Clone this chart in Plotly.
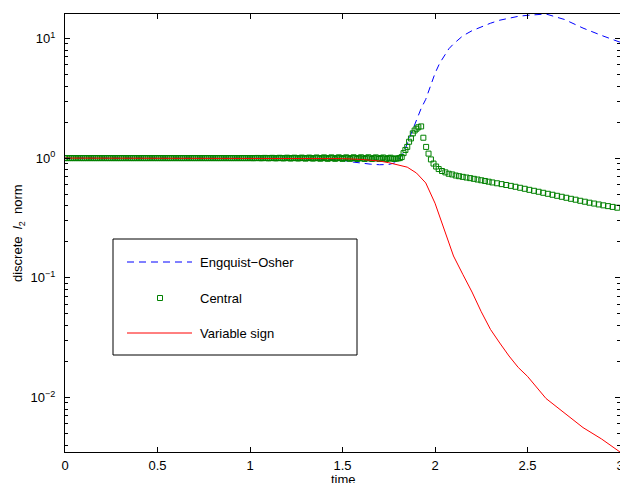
import plotly.graph_objects as go
import numpy as np

# ---------------- data ----------------
eo_t = [0.0, 0.2, 0.4, 0.6, 0.8, 1.0, 1.2, 1.4, 1.5, 1.55, 1.6, 1.65, 1.7, 1.75, 1.78,
        1.80, 1.82, 1.84, 1.86, 1.88, 1.90, 1.925, 1.95, 1.975, 2.0, 2.025, 2.05, 2.075,
        2.1, 2.15, 2.2, 2.25, 2.3, 2.35, 2.4, 2.45, 2.5, 2.55, 2.6, 2.7, 2.8, 2.9, 3.0]
eo_v = [1.0, 1.0, 1.0, 1.0, 1.0, 1.0, 0.995, 0.98, 0.96, 0.93, 0.905, 0.89, 0.88, 0.885, 0.91,
        0.96, 1.05, 1.2, 1.45, 1.75, 2.1, 2.6, 3.1, 4.0, 5.1, 6.2, 7.2, 8.2,
        9.0, 10.5, 11.6, 12.5, 13.4, 14.2, 14.8, 15.3, 15.6, 15.9, 16.0, 14.4, 12.2, 10.6, 9.3]

central_t = [0.00, 0.01, 0.02, 0.03, 0.04, 0.05, 0.06, 0.07, 0.08, 0.09,
             0.10, 0.11, 0.12, 0.13, 0.14, 0.15, 0.16, 0.17, 0.18, 0.19,
             0.20, 0.21, 0.22, 0.23, 0.24, 0.25, 0.26, 0.27, 0.28, 0.29,
             0.30, 0.31, 0.32, 0.33, 0.34, 0.35, 0.36, 0.37, 0.38, 0.39,
             0.40, 0.41, 0.42, 0.43, 0.44, 0.45, 0.46, 0.47, 0.48, 0.49,
             0.50, 0.51, 0.52, 0.53, 0.54, 0.55, 0.56, 0.57, 0.58, 0.59,
             0.60, 0.61, 0.62, 0.63, 0.64, 0.65, 0.66, 0.67, 0.68, 0.69,
             0.70, 0.71, 0.72, 0.73, 0.74, 0.75, 0.76, 0.77, 0.78, 0.79,
             0.80, 0.81, 0.82, 0.83, 0.84, 0.85, 0.86, 0.87, 0.88, 0.89,
             0.90, 0.91, 0.92, 0.93, 0.94, 0.95, 0.96, 0.97, 0.98, 0.99,
             1.00, 1.01, 1.02, 1.03, 1.04, 1.05, 1.06, 1.07, 1.08, 1.09,
             1.10, 1.11, 1.12, 1.13, 1.14, 1.15, 1.16, 1.17, 1.18, 1.19,
             1.20, 1.21, 1.22, 1.23, 1.24, 1.25, 1.26, 1.27, 1.28, 1.29,
             1.30, 1.31, 1.32, 1.33, 1.34, 1.35, 1.36, 1.37, 1.38, 1.39,
             1.40, 1.41, 1.42, 1.43, 1.44, 1.45, 1.46, 1.47, 1.48, 1.49,
             1.50, 1.51, 1.52, 1.53, 1.54, 1.55, 1.56, 1.57, 1.58, 1.59,
             1.60, 1.61, 1.62, 1.63, 1.64, 1.65, 1.66, 1.67, 1.68, 1.69,
             1.70, 1.71, 1.72, 1.73, 1.74, 1.75, 1.76, 1.77, 1.78, 1.79,
             1.80, 1.81, 1.82, 1.83, 1.84, 1.85, 1.86, 1.87, 1.88, 1.89,
             1.90, 1.91, 1.925, 1.937, 1.952, 1.965, 1.978, 1.992, 2.006, 2.02,
             2.038, 2.056, 2.074, 2.093, 2.112, 2.13, 2.15, 2.17, 2.19, 2.21,
             2.23, 2.25, 2.27, 2.29, 2.31, 2.335, 2.36, 2.385, 2.41, 2.435,
             2.46, 2.485, 2.51, 2.535, 2.56, 2.585, 2.61, 2.635, 2.66, 2.685,
             2.71, 2.735, 2.76, 2.785, 2.81, 2.835, 2.86, 2.885, 2.91, 2.935,
             2.96, 2.985]
central_v = [1.0, 1.0, 1.0, 1.0, 1.0, 1.0, 1.0, 1.0, 1.0, 1.0,
             1.0, 1.0, 1.0, 1.0, 1.0, 1.0, 1.0, 1.0, 1.0, 1.0,
             1.0, 1.0, 1.0, 1.0, 1.0, 1.0, 1.0, 1.0, 1.0, 1.0,
             1.0, 1.0, 1.0, 1.0, 1.0, 1.0, 1.0, 1.0, 1.0, 1.0,
             1.0, 1.0, 1.0, 1.0, 1.0, 1.0, 1.0, 1.0, 1.0, 1.0,
             1.0, 1.0, 1.0, 1.0, 1.0, 1.0, 1.0, 1.0, 1.0, 1.0,
             1.0, 1.0, 1.0, 1.0, 1.0, 1.0, 1.0, 1.0, 1.0, 1.0,
             1.0, 1.0, 1.0, 1.0, 1.0, 1.0, 1.0, 1.0, 1.0, 1.0,
             1.0, 1.0, 1.0, 1.0, 1.0, 1.0, 1.0, 1.0, 1.0, 1.0,
             1.0, 1.0, 1.0, 1.0, 1.0, 1.0, 1.0, 1.0, 1.0, 1.0,
             1.0, 1.0, 0.998, 1.0, 1.003, 1.0, 0.997, 1.0, 1.004, 1.0,
             0.996, 1.0, 1.005, 1.0, 0.995, 1.0, 1.006, 1.0, 0.994, 1.0,
             1.008, 1.0, 0.992, 1.0, 1.008, 1.0, 0.992, 1.0, 1.01, 1.0,
             0.99, 1.0, 1.01, 1.0, 0.99, 1.0, 1.012, 1.0, 0.988, 1.0,
             1.014, 1.0, 0.986, 1.0, 1.014, 1.0, 0.986, 1.0, 1.015, 1.0,
             0.985, 1.0, 1.015, 1.0, 0.985, 1.0, 1.016, 1.0, 0.984, 1.0,
             1.016, 0.995, 0.984, 1.0, 1.016, 0.995, 0.984, 1.0, 1.014, 0.995,
             0.984, 1.0, 1.012, 0.99, 0.984, 1.0, 1.008, 0.99, 0.985, 0.99,
             0.995, 1.0, 1.02, 1.10, 1.17, 1.24, 1.37, 1.46, 1.61, 1.70,
             1.76, 1.81, 1.84, 1.48, 1.24, 1.09, 0.975, 0.90, 0.85, 0.81,
             0.78, 0.76, 0.74, 0.73, 0.715, 0.706, 0.697, 0.688, 0.680, 0.671,
             0.662, 0.653, 0.644, 0.635, 0.626, 0.616, 0.606, 0.596, 0.586, 0.576,
             0.565, 0.554, 0.543, 0.533, 0.523, 0.513, 0.503, 0.494, 0.484, 0.475,
             0.466, 0.457, 0.449, 0.440, 0.432, 0.424, 0.417, 0.410, 0.403, 0.397,
             0.391, 0.385]

vs_t = [0.0, 0.2, 0.4, 0.6, 0.8, 1.0, 1.2, 1.4, 1.5, 1.6, 1.65, 1.7, 1.75, 1.8, 1.85,
        1.9, 1.95, 2.0, 2.05, 2.1, 2.15, 2.2, 2.25, 2.3, 2.35, 2.4, 2.45, 2.5,
        2.6, 2.7, 2.8, 2.9, 3.0]
vs_v = [1.0, 1.0, 1.0, 1.0, 1.0, 1.0, 0.998, 0.995, 0.99, 0.975, 0.962, 0.945, 0.915, 0.88, 0.84,
        0.75, 0.62, 0.42, 0.255, 0.152, 0.107, 0.076, 0.052, 0.037, 0.0285, 0.0222, 0.0178, 0.0150,
        0.0098, 0.0074, 0.0056, 0.0045, 0.0035]

series_names = ["Engquist\u2212Osher", "Central", "Variable sign"]
series_colors = ["#0000ff", "#008000", "#ff0000"]
x_tick_vals = [0, 0.5, 1, 1.5, 2, 2.5, 3]
x_tick_text = ["0", "0.5", "1", "1.5", "2", "2.5", "3"]
y_tick_vals = [0.01, 0.1, 1, 10]
y_tick_text = ["10<sup>\u22122</sup>", "10<sup>\u22121</sup>", "10<sup>0</sup>", "10<sup>1</sup>"]
y_minor_vals = [0.003, 0.004, 0.005, 0.006, 0.007, 0.008, 0.009,
                0.02, 0.03, 0.04, 0.05, 0.06, 0.07, 0.08, 0.09,
                0.2, 0.3, 0.4, 0.5, 0.6, 0.7, 0.8, 0.9,
                2, 3, 4, 5, 6, 7, 8, 9, 20]

FONT = "Liberation Sans, Arial, Helvetica, sans-serif"

fig = go.Figure()
fig.add_trace(go.Scatter(x=eo_t, y=eo_v, mode="lines", name=series_names[0],
                         line=dict(color=series_colors[0], width=1, dash="7px,5px"),
                         showlegend=False))
fig.add_trace(go.Scatter(x=central_t, y=central_v, mode="markers", name=series_names[1],
                         marker=dict(symbol="square-open", size=5, color=series_colors[1],
                                     line=dict(width=1, color=series_colors[1])),
                         showlegend=False))
fig.add_trace(go.Scatter(x=vs_t, y=vs_v, mode="lines", name=series_names[2],
                         line=dict(color=series_colors[2], width=1),
                         showlegend=False))

all_v = eo_v + central_v + vs_v
y_range = [float(np.log10(min(all_v))), float(np.log10(max(all_v)))]

L, R, T, B = 65, 0, 14, 31
W, H = 620, 483
pw, ph = W - L - R, H - T - B

def px(xp):
    return (xp - L) / pw

def py(yp):
    return (T + ph - yp) / ph

fig.update_layout(
    width=W, height=H,
    margin=dict(l=L, r=R, t=T, b=B, autoexpand=False),
    paper_bgcolor="white", plot_bgcolor="white",
    font=dict(family=FONT, size=13, color="black"),
    showlegend=False,
)
fig.update_xaxes(
    range=[0, 3], tickmode="array", tickvals=x_tick_vals, ticktext=x_tick_text,
    showgrid=False, zeroline=False, showline=True, linecolor="black", linewidth=1,
    mirror="ticks", ticks="inside", ticklen=5, tickcolor="black", tickwidth=1,
    ticklabelstandoff=1, ticklabeloverflow="allow", tickfont=dict(size=13, family=FONT),
)
fig.update_yaxes(
    type="log", range=y_range, tickmode="array", tickvals=y_tick_vals, ticktext=y_tick_text,
    showgrid=False, zeroline=False, showline=True, linecolor="black", linewidth=1,
    mirror="ticks", ticks="inside", ticklen=5, tickcolor="black", tickwidth=1,
    ticklabelstandoff=6, tickfont=dict(size=13, family=FONT),
    minor=dict(tickmode="array", tickvals=y_minor_vals, ticks="inside", ticklen=3,
               tickcolor="black", tickwidth=1, showgrid=False),
)

# axis titles
fig.add_annotation(text="time", xref="paper", yref="paper", x=px(343), y=py(479),
                   xanchor="center", yanchor="middle", showarrow=False,
                   font=dict(size=13, family=FONT))
fig.add_annotation(text="discrete  <i>l</i><sub>2</sub>  norm", xref="paper", yref="paper",
                   x=px(18), y=0.5, textangle=-90, xanchor="center", yanchor="middle",
                   showarrow=False, font=dict(size=13, family=FONT))

# legend box (drawn manually to match the MATLAB legend geometry)
fig.add_shape(type="rect", xref="paper", yref="paper",
              x0=px(113), x1=px(357), y0=py(355), y1=py(239),
              line=dict(color="black", width=1), fillcolor="white", layer="above")
rows = [262, 298, 333]
fig.add_shape(type="line", xref="paper", yref="paper", x0=px(127), x1=px(192),
              y0=py(rows[0]), y1=py(rows[0]), layer="above",
              line=dict(color=series_colors[0], width=1, dash="7px,5px"))
fig.add_shape(type="rect", xref="paper", yref="paper", xsizemode="pixel", ysizemode="pixel",
              xanchor=px(160), yanchor=py(rows[1]), x0=-2.5, x1=2.5, y0=-2.5, y1=2.5,
              layer="above", line=dict(color=series_colors[1], width=1))
fig.add_shape(type="line", xref="paper", yref="paper", x0=px(127), x1=px(192),
              y0=py(rows[2]), y1=py(rows[2]), layer="above",
              line=dict(color=series_colors[2], width=1))
for name, r in zip(series_names, rows):
    fig.add_annotation(text=name, xref="paper", yref="paper", x=px(198), y=py(r),
                       xanchor="left", yanchor="middle", showarrow=False,
                       font=dict(size=13, family=FONT))

fig.write_html("out.html", config={"displayModeBar": False},
               post_script="document.body.style.margin='0px';document.body.style.overflow='hidden';")
